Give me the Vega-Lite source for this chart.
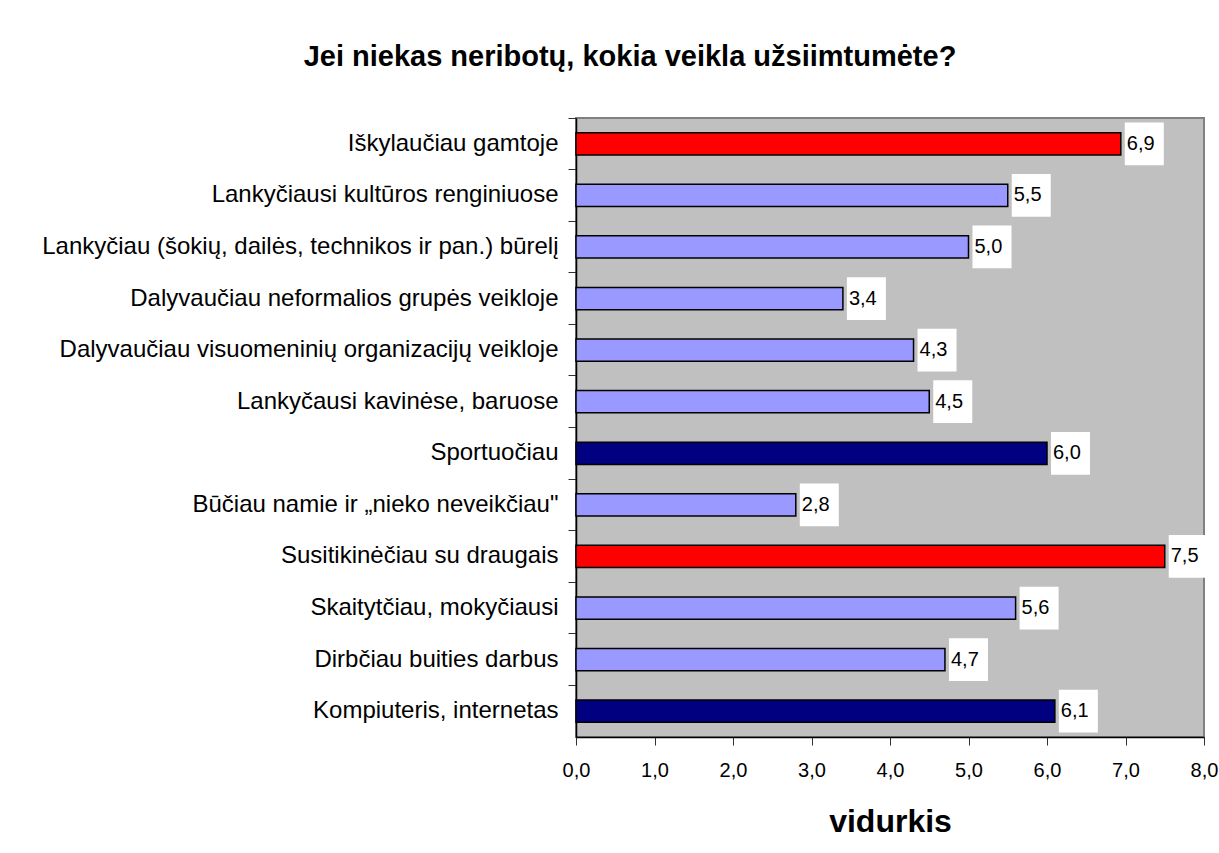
{
  "$schema": "https://vega.github.io/schema/vega-lite/v6.json",
  "autosize": {"type": "none"},
  "width": 628,
  "height": 619,
  "padding": {"left": 576, "top": 118, "right": 15, "bottom": 116},
  "background": "white",
  "config": {
    "locale": {"number": {"decimal": ",", "thousands": " ", "grouping": [3], "currency": ["", " €"]}},
    "font": "Liberation Sans",
    "view": {"fill": "#C0C0C0", "stroke": "#808080", "strokeWidth": 2}
  },
  "title": {
    "text": "Jei niekas neribotų, kokia veikla užsiimtumėte?",
    "font": "Liberation Sans",
    "fontSize": 29,
    "fontWeight": "bold",
    "color": "black",
    "anchor": "middle",
    "frame": "group",
    "dx": -260,
    "offset": 46
  },
  "data": {
    "values": [
      {"veikla": "Iškylaučiau gamtoje", "vidurkis": 6.94, "grupe": "a"},
      {"veikla": "Lankyčiausi kultūros renginiuose", "vidurkis": 5.5, "grupe": "b"},
      {"veikla": "Lankyčiau (šokių, dailės, technikos ir pan.) būrelį", "vidurkis": 5.0, "grupe": "b"},
      {"veikla": "Dalyvaučiau neformalios grupės veikloje", "vidurkis": 3.4, "grupe": "b"},
      {"veikla": "Dalyvaučiau visuomeninių organizacijų veikloje", "vidurkis": 4.3, "grupe": "b"},
      {"veikla": "Lankyčausi kavinėse, baruose", "vidurkis": 4.5, "grupe": "b"},
      {"veikla": "Sportuočiau", "vidurkis": 6.0, "grupe": "c"},
      {"veikla": "Būčiau namie ir „nieko neveikčiau\"", "vidurkis": 2.8, "grupe": "b"},
      {"veikla": "Susitikinėčiau su draugais", "vidurkis": 7.5, "grupe": "a"},
      {"veikla": "Skaitytčiau, mokyčiausi", "vidurkis": 5.6, "grupe": "b"},
      {"veikla": "Dirbčiau buities darbus", "vidurkis": 4.7, "grupe": "b"},
      {"veikla": "Kompiuteris, internetas", "vidurkis": 6.1, "grupe": "c"}
    ]
  },
  "encoding": {
    "y": {
      "field": "veikla",
      "type": "nominal",
      "sort": null,
      "scale": {"paddingInner": 0, "paddingOuter": 0},
      "axis": {
        "title": null,
        "bandPosition": 0,
        "labelFont": "Liberation Sans",
        "labelFontSize": 24,
        "labelColor": "black",
        "labelLimit": 700,
        "labelPadding": 10,
        "tickSize": 8,
        "tickColor": "#333",
        "domainColor": "black",
        "domainWidth": 1.5,
        "grid": false
      }
    }
  },
  "layer": [
    {
      "mark": {"type": "bar", "height": {"band": 0.43}, "stroke": "black", "strokeWidth": 1.5},
      "encoding": {
        "x": {
          "field": "vidurkis",
          "type": "quantitative",
          "scale": {"domain": [0, 8], "nice": false},
          "axis": {
            "title": "vidurkis",
            "titleFont": "Liberation Sans",
            "titleFontSize": 32,
            "titleFontWeight": "bold",
            "titleColor": "black",
            "titlePadding": 26,
            "format": ".1f",
            "values": [0, 1, 2, 3, 4, 5, 6, 7, 8],
            "labelFont": "Liberation Sans",
            "labelFontSize": 20,
            "labelColor": "black",
            "labelPadding": 15,
            "labelFlush": false,
            "tickSize": 8,
            "tickColor": "#333",
            "domainColor": "black",
            "domainWidth": 1.5,
            "grid": false
          }
        },
        "color": {
          "field": "grupe",
          "type": "nominal",
          "scale": {"domain": ["a", "b", "c"], "range": ["#FF0000", "#9999FF", "#000080"]},
          "legend": null
        }
      }
    },
    {
      "mark": {"type": "bar", "height": {"band": 0.83}, "color": "white", "xOffset": 4, "x2Offset": 43},
      "encoding": {
        "x": {"field": "vidurkis", "type": "quantitative"},
        "x2": {"field": "vidurkis"}
      }
    },
    {
      "mark": {"type": "text", "align": "left", "dx": 6, "font": "Liberation Sans", "fontSize": 20, "color": "black"},
      "encoding": {
        "x": {"field": "vidurkis", "type": "quantitative"},
        "text": {"field": "vidurkis", "type": "quantitative", "format": ".1f"}
      }
    }
  ]
}
